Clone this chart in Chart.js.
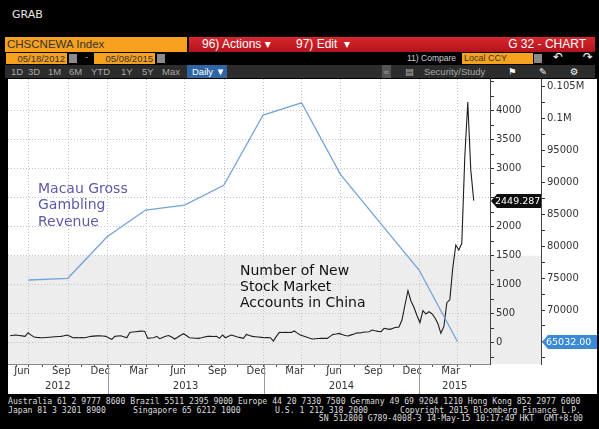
<!DOCTYPE html>
<html lang="en">
<head>
    <meta charset="UTF-8" />
    <title>CHSCNEWA Index - G 32 Chart</title>
    <style>
        :root {
            --orange: #f7a11e;
            --red: #c81d25;
            --bar: #2c2c2c;
            --btn: #a8a8a8;
        }
        * { margin: 0; padding: 0; box-sizing: border-box; }
        body {
            width: 599px;
            height: 429px;
            background: #000;
            position: relative;
            overflow: hidden;
            font-family: 'Liberation Sans', 'DejaVu Sans', sans-serif;
        }
        .abs { position: absolute; white-space: nowrap; }
        .grab { left: 12px; top: 8px; color: #e6e6e6; font-size: 11px; font-family: 'DejaVu Sans', sans-serif; }
        /* row 1 */
        .ticker { left: 5px; top: 37px; width: 182px; height: 15px; background: var(--orange); color: #333; font-size: 11.5px; line-height: 15px; padding-left: 2px; }
        .menu { left: 189px; top: 37px; width: 406px; height: 15px; background: linear-gradient(#d8262e, #b3141c); }
        .menu span { position: absolute; color: #fff; font-size: 12px; line-height: 15px; }
        /* row 2 */
        .date { top: 53px; height: 11px; background: var(--orange); color: #333; font-size: 9.5px; line-height: 11px; text-align: right; padding-right: 2px; }
        .cal { top: 54px; width: 8px; height: 9px; background: #8a8a8a; }
        .cmp { left: 407px; top: 53px; color: #cfcfcf; font-size: 8.5px; line-height: 11px; }
        .ccy { left: 462px; top: 53px; width: 71px; height: 11px; background: var(--orange); color: #333; font-size: 9px; line-height: 11px; padding-left: 2px; }
        .icon { top: 51px; color: #fff; font-size: 12px; line-height: 13px; }
        /* row 3 */
        .tools { left: 5px; top: 65px; width: 590px; height: 13px; background: var(--bar); }
        .tools span { position: absolute; top: 0; color: var(--btn); font-size: 9.5px; line-height: 13px; }
        .daily { left: 182px; width: 40px; height: 13px; background: #2f65a3; color: #fff !important; padding-left: 5px; }
        .foot { color: #dcdcdc; font-family: 'DejaVu Sans Mono', monospace; font-size: 8.15px; line-height: 9px; }
        #chartBox { position: absolute; left: 8px; top: 79px; width: 589px; height: 315px; }
    </style>
</head>
<body>
    <div class="abs grab">GRAB</div>

    <div class="abs ticker">CHSCNEWA Index</div>
    <div class="abs menu">
        <span style="left: 13px;">96) Actions &#9662;</span>
        <span style="left: 107px;">97) Edit &nbsp;&#9662;</span>
        <span style="right: 9px;">G 32 - CHART</span>
    </div>

    <div class="abs date" style="left: 6px; width: 61px;">05/18/2012</div>
    <div class="abs cal" style="left: 69px;"></div>
    <div class="abs" style="left: 85px; top: 52px; color: var(--orange); font-size: 9px;">-</div>
    <div class="abs date" style="left: 94px; width: 61px;">05/08/2015</div>
    <div class="abs cal" style="left: 157px;"></div>
    <div class="abs cmp">11) Compare</div>
    <div class="abs ccy">Local CCY</div>
    <div class="abs cal" style="left: 534px;"></div>
    <div class="abs icon" style="left: 553px;">&#8630;</div>
    <div class="abs icon" style="left: 583px;">&#8631;</div>

    <div class="abs tools">
        <span style="left: 6px;">1D</span>
        <span style="left: 23px;">3D</span>
        <span style="left: 43px;">1M</span>
        <span style="left: 64px;">6M</span>
        <span style="left: 86px;">YTD</span>
        <span style="left: 116px;">1Y</span>
        <span style="left: 137px;">5Y</span>
        <span style="left: 157px;">Max</span>
        <span class="daily">Daily &#9660;</span>
        <span style="left: 377px; width: 9px; background: #555; text-align: center;">&laquo;</span>
        <span style="left: 400px;">&#9636;</span>
        <span style="left: 419px;">Security/Study</span>
        <span style="left: 503px; color: #fff;">&#9873;</span>
        <span style="left: 534px; color: #fff;">&#9998;</span>
        <span style="left: 565px; color: #fff;">&#9881;</span>
    </div>

    <div id="chartBox"><canvas id="chart" width="589" height="315"></canvas></div>

    <div class="abs foot" style="left: 8px; top: 397px;">Australia 61 2 9777 8600 Brazil 5511 2395 9000 Europe 44 20 7330 7500 Germany 49 69 9204 1210 Hong Kong 852 2977 6000</div>
    <div class="abs foot" style="left: 8px; top: 406px;">Japan 81 3 3201 8900</div>
    <div class="abs foot" style="left: 133px; top: 406px;">Singapore 65 6212 1000</div>
    <div class="abs foot" style="left: 275px; top: 406px;">U.S. 1 212 318 2000</div>
    <div class="abs foot" style="left: 400px; top: 406px;">Copyright 2015 Bloomberg Finance L.P.</div>
    <div class="abs foot" style="right: 16px; top: 414px;">SN 512800 G789-4008-3 14-May-15 10:17:49 HKT &nbsp;GMT+8:00</div>

    <script src="https://cdn.jsdelivr.net/npm/chart.js@4"></script>
    <script>
        // weekly new stock market accounts in China (thousands), first week ending 2012-05-18
        const accountsStart = '2012-05-18';
        const accountsWeekly = [
            121, 128, 133, 125, 118, 110, 172, 130, 98, 92, 88, 86, 90, 95, 98, 102,
            106, 110, 120, 133, 110, 86, 88, 85, 87, 86, 98, 110, 114, 118, 121, 116,
            110, 80, 58, 110, 115, 121, 104, 86, 178, 185, 190, 196, 202, 195, 75, 82,
            86, 110, 69, 90, 110, 125, 98, 64, 95, 130, 155, 120, 86, 82, 78, 75,
            85, 100, 110, 112, 108, 110, 75, 133, 86, 110, 133, 115, 98, 88, 75, 144,
            125, 110, 104, 98, 92, 86, 88, 86, 29, 110, 178, 176, 180, 175, 178, 202,
            165, 133, 115, 98, 80, 64, 68, 72, 75, 78, 75, 110, 144, 150, 161, 140,
            125, 115, 135, 150, 172, 168, 180, 186, 190, 218, 205, 195, 190, 248, 238, 230,
            250, 265, 270, 391, 650, 897, 720, 610, 470, 345, 552, 495, 535, 500, 430, 330,
            162, 276, 690, 740, 1300, 1684, 1598, 1714, 3200, 4150, 2980, 2449.287
        ];

        // Macau gross gambling revenue, quarterly (MOP mn)
        const macauQuarters = ['2012-06-30', '2012-09-30', '2012-12-31', '2013-03-31', '2013-06-30', '2013-09-30',
                               '2013-12-31', '2014-03-31', '2014-06-30', '2014-09-30', '2014-12-31', '2015-03-31'];
        const macauRevenue = [74700, 74970, 81490, 85670, 86450, 89540, 100560, 102480, 91260, 83740, 76270, 65032];

        // axis ticks
        const accountTicks = [0, 500, 1000, 1500, 2000, 2500, 3000, 3500, 4000];
        const accountMinor = [-250, 250, 750, 1250, 1750, 2250, 2750, 3250, 3750, 4250, 4500];
        const macauTicks = [70000, 75000, 80000, 85000, 90000, 95000, 100000, 105000];
        const macauTickLabels = ['70000', '75000', '80000', '85000', '90000', '95000', '0.1M', '0.105M'];
        const macauMinor = [62500, 65000, 67500, 72500, 77500, 82500, 87500, 92500, 97500, 102500];
        const monthLabels = ['Jun', 'Sep', 'Dec', 'Mar', 'Jun', 'Sep', 'Dec', 'Mar', 'Jun', 'Sep', 'Dec', 'Mar'];
        const monthLabelDates = ['2012-06-15', '2012-09-15', '2012-12-15', '2013-03-15', '2013-06-15', '2013-09-15',
                                 '2013-12-15', '2014-03-15', '2014-06-15', '2014-09-15', '2014-12-15', '2015-03-15'];
        const yearLabels = ['2012', '2013', '2014', '2015'];

        const DAY0 = Date.UTC(2013, 0, 1);
        function dayOf(s) {
            const p = s.split('-').map(Number);
            return (Date.UTC(p[0], p[1] - 1, p[2]) - DAY0) / 864e5;
        }
        const X_MIN = dayOf('2012-05-13');
        const X_MAX = dayOf('2015-06-15');

        // month starts for tick marks
        const monthStarts = [];
        for (let y = 2012, m = 5; y < 2015 || m <= 5; m++) {
            if (m > 12) { m = 1; y++; }
            monthStarts.push({ v: dayOf(y + '-' + String(m).padStart(2, '0') + '-01'), m: m });
            if (y === 2015 && m === 6) break;
        }
        const quarterDays = monthStarts.filter(t => (t.m - 1) % 3 === 0).map(t => t.v);
        const yearStarts = [dayOf('2013-01-01'), dayOf('2014-01-01'), dayOf('2015-01-01')];

        const s0 = dayOf(accountsStart);
        const accountsData = accountsWeekly.map((v, i) => ({ x: s0 + 7 * i, y: v }));
        const macauData = macauQuarters.map((d, i) => ({ x: dayOf(d), y: macauRevenue[i] }));
        const lastAcc = accountsWeekly[accountsWeekly.length - 1];
        const lastMacau = macauRevenue[macauRevenue.length - 1];

        const GRID = '#c4c4c4';
        const NONE = 'rgba(0,0,0,0)';
        const FONT = { family: 'DejaVu Sans', size: 10 };

        // no extra label padding, so the plot fills the white panel
        const noPad = (s, w, h) => {
            if (w) s.width = w;
            if (h) s.height = h;
            s.paddingTop = s.paddingBottom = s.paddingLeft = s.paddingRight = 0;
        };

        const bloombergDecor = {
            id: 'bloombergDecor',
            beforeDraw(chart) {
                const { ctx, chartArea, scales } = chart;
                ctx.save();
                ctx.fillStyle = '#fff';
                ctx.fillRect(0, 0, chart.width, chart.height);
                const yb = scales.y.getPixelForValue(1500);
                ctx.fillStyle = '#ededed';
                ctx.fillRect(chartArea.left, yb, scales.y.right - chartArea.left, chartArea.bottom - yb);
                ctx.restore();
            },
            afterDraw(chart) {
                const { ctx, chartArea, scales } = chart;
                const x = scales.x;
                ctx.save();
                // month and year labels
                ctx.fillStyle = '#333';
                ctx.font = '10px "DejaVu Sans"';
                ctx.textAlign = 'center';
                ctx.textBaseline = 'middle';
                monthLabels.forEach((t, i) => ctx.fillText(t, x.getPixelForValue(dayOf(monthLabelDates[i])), chartArea.bottom + 7));
                const bounds = [X_MIN].concat(yearStarts, [X_MAX]);
                yearLabels.forEach((t, i) => {
                    const cx = (x.getPixelForValue(bounds[i]) + x.getPixelForValue(bounds[i + 1])) / 2;
                    ctx.fillText(t, cx, chartArea.bottom + 22);
                });
                ctx.strokeStyle = '#999';
                ctx.lineWidth = 1;
                yearStarts.forEach(d => {
                    const px = Math.round(x.getPixelForValue(d)) + 0.5;
                    ctx.beginPath();
                    ctx.moveTo(px, chartArea.bottom + 1);
                    ctx.lineTo(px, chart.height);
                    ctx.stroke();
                });

                // series annotations
                ctx.textAlign = 'left';
                ctx.font = '14px "DejaVu Sans"';
                ctx.fillStyle = '#5b5ba9';
                ['Macau Gross', 'Gambling', 'Revenue'].forEach((t, i) => ctx.fillText(t, 30, 110 + i * 16.5));
                ctx.fillStyle = '#111';
                ['Number of New', 'Stock Market', 'Accounts in China'].forEach((t, i) => ctx.fillText(t, 232, 192 + i * 16));

                // last value tags
                const tag = (scale, value, text, fill, right) => {
                    const cy = Math.round(scale.getPixelForValue(value));
                    const l = scale.left + 1;
                    ctx.fillStyle = fill;
                    ctx.beginPath();
                    ctx.moveTo(l, cy);
                    ctx.lineTo(l + 6, cy - 7);
                    ctx.lineTo(right, cy - 7);
                    ctx.lineTo(right, cy + 7);
                    ctx.lineTo(l + 6, cy + 7);
                    ctx.closePath();
                    ctx.fill();
                    ctx.fillStyle = '#fff';
                    ctx.font = '9.5px "DejaVu Sans"';
                    ctx.fillText(text, l + 4, cy + 0.5);
                };
                tag(scales.y, lastAcc, lastAcc.toFixed(3), '#0d0d0d', scales.y.right);
                tag(scales.y2, lastMacau, lastMacau.toFixed(2), '#3b8ad6', chart.width);
                ctx.restore();
            }
        };

        new Chart(document.getElementById('chart'), {
            type: 'line',
            data: {
                datasets: [{
                    label: 'Macau Gross Gambling Revenue',
                    data: macauData,
                    yAxisID: 'y2',
                    borderColor: '#74a3d8',
                    borderWidth: 1.3,
                    pointRadius: 0,
                    tension: 0
                }, {
                    label: 'Number of New Stock Market Accounts in China',
                    data: accountsData,
                    yAxisID: 'y',
                    borderColor: '#1e1e1e',
                    borderWidth: 1.1,
                    pointRadius: 0,
                    tension: 0
                }]
            },
            options: {
                responsive: false,
                animation: false,
                devicePixelRatio: 1,
                layout: { padding: 0 },
                plugins: { legend: { display: false }, tooltip: { enabled: false } },
                scales: {
                    x: {
                        type: 'linear',
                        min: X_MIN,
                        max: X_MAX,
                        afterBuildTicks: s => { s.ticks = monthStarts.map(t => ({ value: t.v })); },
                        afterFit: s => noPad(s, 0, 30),
                        ticks: { display: false, autoSkip: false },
                        grid: {
                            color: c => (c.tick && quarterDays.includes(c.tick.value)) ? GRID : NONE,
                            tickColor: '#555',
                            tickLength: 3
                        },
                        border: { color: '#888', dash: [1, 2] }
                    },
                    y: {
                        position: 'right',
                        weight: 0,
                        min: -367,
                        max: 4547,
                        afterBuildTicks: s => { s.ticks = accountTicks.concat(accountMinor).sort((a, b) => a - b).map(v => ({ value: v })); },
                        afterFit: s => noPad(s, 51, 0),
                        ticks: {
                            autoSkip: false,
                            padding: 2,
                            color: '#333',
                            font: FONT,
                            // the last-value tag covers the nearest label
                            callback: v => (accountTicks.includes(v) && Math.abs(v - lastAcc) > 200) ? String(v) : ''
                        },
                        grid: {
                            color: c => (c.tick && accountTicks.includes(c.tick.value)) ? GRID : NONE,
                            tickColor: '#333',
                            tickLength: 4
                        },
                        border: { color: '#444', dash: [1, 2] }
                    },
                    y2: {
                        position: 'right',
                        weight: 1,
                        min: 61537,
                        max: 106207,
                        afterBuildTicks: s => { s.ticks = macauTicks.concat(macauMinor).sort((a, b) => a - b).map(v => ({ value: v })); },
                        afterFit: s => noPad(s, 56, 0),
                        ticks: {
                            autoSkip: false,
                            padding: 2,
                            color: '#333',
                            font: FONT,
                            callback: v => {
                                const i = macauTicks.indexOf(v);
                                return i >= 0 ? macauTickLabels[i] : '';
                            }
                        },
                        grid: { drawOnChartArea: false, tickColor: '#333', tickLength: 4 },
                        border: { color: '#444' }
                    }
                }
            },
            plugins: [bloombergDecor]
        });
    </script>
</body>
</html>
